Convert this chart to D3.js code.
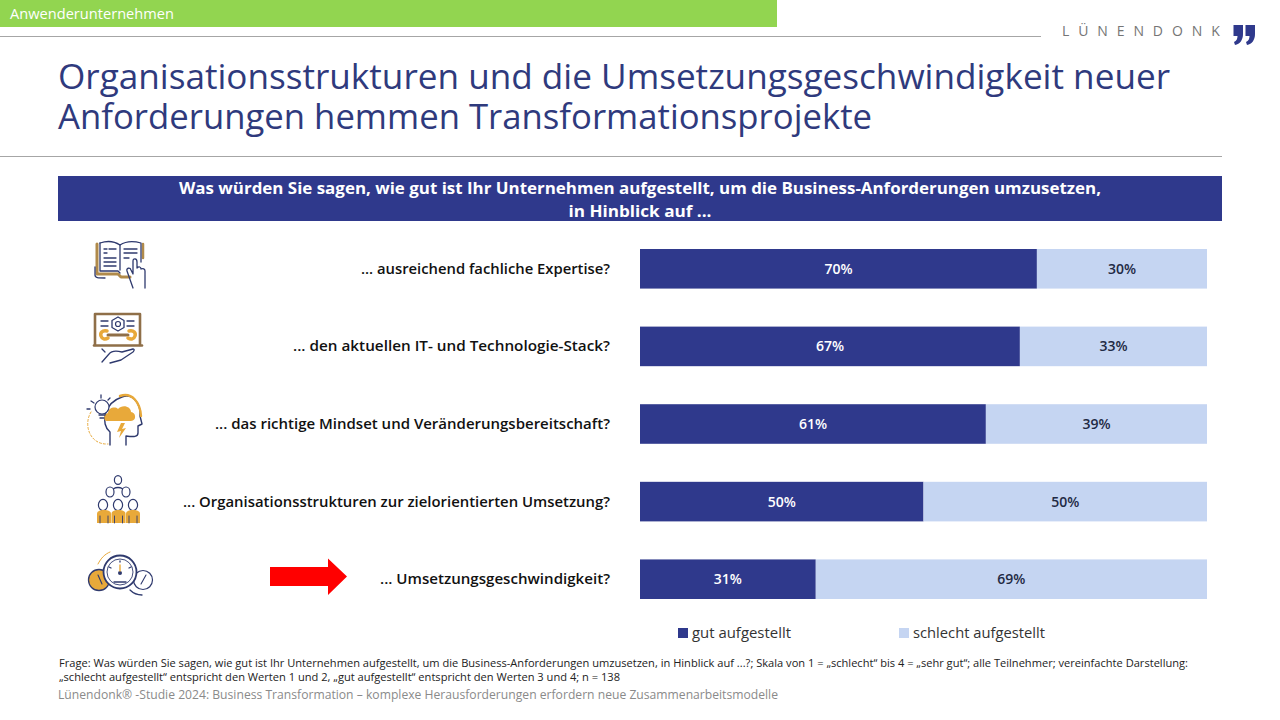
<!DOCTYPE html>
<html lang="de">
<head>
<meta charset="utf-8">
<title>Transformationsprojekte</title>
<script src="https://cdn.jsdelivr.net/npm/d3@7"></script>
<style>
    html, body { margin: 0; padding: 0; background: #fff; }
    svg { display: block; }
    text { font-family: "Open Sans", "Noto Sans", sans-serif; }
</style>
</head>
<body>
<div id="chart"></div>
<script>
// values
const categories = [
    "... ausreichend fachliche Expertise?",
    "... den aktuellen IT- und Technologie-Stack?",
    "... das richtige Mindset und Veränderungsbereitschaft?",
    "... Organisationsstrukturen zur zielorientierten Umsetzung?",
    "... Umsetzungsgeschwindigkeit?"
];
const gutValues = [70, 67, 61, 50, 31];
const schlechtValues = [30, 33, 39, 50, 69];
const seriesNames = ["gut aufgestellt", "schlecht aufgestellt"];
const seriesColours = ["#2f398c", "#c5d5f2"];
const labelColours = ["#ffffff", "#1f2a44"];
const labelWidths = [249, 317, 395, 427, 230];

const titleLines = [
    "Organisationsstrukturen und die Umsetzungsgeschwindigkeit neuer",
    "Anforderungen hemmen Transformationsprojekte"
];
const questionLines = [
    "Was würden Sie sagen, wie gut ist Ihr Unternehmen aufgestellt, um die Business-Anforderungen umzusetzen,",
    "in Hinblick auf ..."
];
const footLines = [
    "Frage: Was würden Sie sagen, wie gut ist Ihr Unternehmen aufgestellt, um die Business-Anforderungen umzusetzen, in Hinblick auf ...?; Skala von 1 = „schlecht“ bis 4 = „sehr gut“; alle Teilnehmer; vereinfachte Darstellung:",
    "„schlecht aufgestellt“ entspricht den Werten 1 und 2, „gut aufgestellt“ entspricht den Werten 3 und 4; n = 138"
];
const studyLine = "Lünendonk® -Studie 2024: Business Transformation – komplexe Herausforderungen erfordern neue Zusammenarbeitsmodelle";

const width = 1280, height = 720;
const svg = d3.select("#chart").append("svg").attr("width", width).attr("height", height);

// text helper, textLength keeps the line widths of the original font
function addText(parent, str, x, y, size, colour, opts = {}) {
    let t = parent.append("text")
        .attr("x", x).attr("y", y)
        .attr("font-size", size)
        .attr("fill", colour)
        .attr("font-weight", opts.weight || 400)
        .attr("text-anchor", opts.anchor || "start")
        .text(str);
    if (opts.len) t.attr("textLength", opts.len).attr("lengthAdjust", "spacingAndGlyphs");
    if (opts.spacing) t.attr("letter-spacing", opts.spacing);
    return t;
}

// page furniture
svg.append("rect").attr("x", 0).attr("y", 0).attr("width", 777).attr("height", 27).attr("fill", "#92d550");
addText(svg, "Anwenderunternehmen", 10, 19, 14, "#fff", { len: 164 });
svg.append("line").attr("x1", 0).attr("x2", 1041).attr("y1", 36.5).attr("y2", 36.5).attr("stroke", "#a6a6a6");
addText(svg, "LÜNENDONK", 1062, 36, 14, "#757575", { spacing: 8.9 });
svg.append("line").attr("x1", 0).attr("x2", 1222).attr("y1", 156.5).attr("y2", 156.5).attr("stroke", "#a6a6a6");

// logo quote marks
[1233, 1245].forEach(x => {
    svg.append("path")
        .attr("transform", `translate(${x},25)`)
        .attr("d", "M0.5,0 H10 V9 C10,15 7,19 2,20 L1,17 C3.5,16 4.5,14 4.5,11 H0.5 Z")
        .attr("fill", "#2f398c");
});

// one text element for the two title lines
const title = svg.append("text").attr("font-size", 35).attr("fill", "#2f3a7d");
[[89, 1112], [129, 814]].forEach((p, i) => {
    title.append("tspan").attr("x", 58).attr("y", p[0])
        .attr("textLength", p[1]).attr("lengthAdjust", "spacingAndGlyphs")
        .text(titleLines[i]);
});

svg.append("rect").attr("x", 58).attr("y", 176).attr("width", 1164).attr("height", 45).attr("fill", "#2f398c");
addText(svg, questionLines[0], 640, 194, 16, "#fff", { weight: 700, anchor: "middle", len: 922 });
addText(svg, questionLines[1], 640, 217, 16, "#fff", { weight: 700, anchor: "middle", len: 143 });

// bars
const x = d3.scaleLinear().domain([0, 100]).range([640, 1207]);
const y = d3.scaleBand().domain(categories).range([249, 599]).paddingInner(0.49).paddingOuter(0);

const rows = categories.map((c, i) => ({ cat: c, gut: gutValues[i], schlecht: schlechtValues[i] }));
const stack = d3.stack().keys(["gut", "schlecht"])(rows);

const layers = svg.selectAll(".layer").data(stack).join("g").attr("class", "layer");
layers.selectAll("rect").data(d => d).join("rect")
    .attr("x", d => x(d[0]))
    .attr("y", d => y(d.data.cat))
    .attr("width", d => x(d[1]) - x(d[0]))
    .attr("height", y.bandwidth())
    .attr("fill", (d, i, n) => seriesColours[stack.indexOf(d3.select(n[i].parentNode).datum())]);

layers.each(function (layer, li) {
    d3.select(this).selectAll("text").data(layer).join("text")
        .attr("x", d => (x(d[0]) + x(d[1])) / 2)
        .attr("y", d => y(d.data.cat) + y.bandwidth() / 2 + 5)
        .attr("text-anchor", "middle")
        .attr("font-size", 14)
        .attr("font-weight", 600)
        .attr("fill", labelColours[li])
        .text(d => (d[1] - d[0]) + "%");
});

categories.forEach((c, i) => {
    addText(svg, c, 610, y(c) + y.bandwidth() / 2 + 5, 14, "#111", { weight: 600, anchor: "end", len: labelWidths[i] });
});

// legend
const legendX = [678, 899], legendLen = [99, 132];
seriesNames.forEach((s, i) => {
    svg.append("rect").attr("x", legendX[i]).attr("y", 628).attr("width", 10).attr("height", 10).attr("fill", seriesColours[i]);
    addText(svg, s, legendX[i] + 14, 638, 15, "#333", { len: legendLen[i] });
});

// notes
addText(svg, footLines[0], 59, 667, 10.5, "#222", { len: 1129 });
addText(svg, footLines[1], 59, 681, 10.5, "#222", { len: 561 });
addText(svg, studyLine, 58, 698.5, 12, "#8a8a8a", { len: 720 });

// red arrow in front of the last row
svg.append("path")
    .attr("d", "M270,567 H328 V558.5 L347,576.5 L328,595 V586 H270 Z")
    .attr("fill", "#ff0000");

// row icons
const navy = "#2f3a6e", gold = "#e8a93a", brown = "#8f6f48";
function line(g, d, c = navy, w = 1.3) {
    return g.append("path").attr("d", d).attr("fill", "none").attr("stroke", c).attr("stroke-width", w).attr("stroke-linecap", "round").attr("stroke-linejoin", "round");
}
function fill(g, d, c = gold) { return g.append("path").attr("d", d).attr("fill", c); }

// book with pointing hand
const book = svg.append("g");
line(book, "M97,244 V274 H118 L121,277 H130", "#b08a4a", 3);
line(book, "M143,244 V258", "#b08a4a", 2.5);
line(book, "M100,243 C106,241 114,241 120,245 C126,241 134,241 141,243 V262");
line(book, "M100,243 V271 H118 L120,273");
line(book, "M120,245 V270");
line(book, "M95,267 V275 C95,278 98,278 105,278");
line(book, "M104,249 h3 M104,253 h3 M109,249 h7 M104,258 h12 M104,262 h12 M104,266 h12 M124,249 h13 M124,253 h13 M124,258 h5");
line(book, "M133,288 L127,271 C126,268 130,267 131,270 L133,274 V261 C133,258 137,258 137,262 V268 C139,266 141,267 141,269 C143,268 145,269 145,271 V288");

// laptop with wrench on a hand
const laptop = svg.append("g");
line(laptop, "M95,345 V314 H140 V345", brown, 2.6);
line(laptop, "M94,345.5 H142", brown, 2.6);
line(laptop, "M118,317 L124,320.5 V327.5 L118,331 L112,327.5 V320.5 Z");
laptop.append("circle").attr("cx", 118).attr("cy", 324).attr("r", 2.5).attr("fill", "none").attr("stroke", navy).attr("stroke-width", 1.2);
line(laptop, "M101,321 h7 M101,326 h7 M127,321 h7 M127,326 h7");
line(laptop, "M108,335 H128", brown, 3);
line(laptop, "M107,331 C102,330 100,333 101,336 C102,339 105,340 108,338", gold, 3.5);
line(laptop, "M129,331 C134,330 136,333 135,336 C134,339 131,340 128,338", gold, 3.5);
line(laptop, "M102,362 L109,354 C112,350 118,351 122,352 L133,349 C135,349 134,351 133,352 L121,360 L110,363 M102,349 L105,352");

// head with bulb and cloud
const head = svg.append("g");
line(head, "M110,445 V432 C100,424 104,403 122,397 C134,393 141,405 140,416 L142,424 L138,426 V433 C138,437 134,437 126,436 V445", navy, 1.4);
line(head, "M120,396 C132,392 140,402 141,416", gold, 2.4);
fill(head, "M107,421 C103,421 103,414 108,413 C108,408 115,406 118,409 C122,404 131,406 131,412 C136,412 137,421 131,421 Z");
fill(head, "M121,423 L117,432 L121,431 L119,438 L126,428 L122,429 L125,423 Z");
head.append("circle").attr("cx", 102).attr("cy", 407).attr("r", 7).attr("fill", "#fff").attr("stroke", navy).attr("stroke-width", 1.2);
line(head, "M99,415 h6 M100,418 h4 M101,395 v3 M91,401 l3,2 M110,398 l-2,2 M87,409 h3");
line(head, "M91,412 C83,425 90,445 108,444", gold, 1).attr("stroke-dasharray", "2 2");

// group of people
const people = svg.append("g");
line(people, "M112,492 C112,486 124,486 124,492");
[[118, 480, 3.6, 4.4], [110, 492, 4, 5], [126, 492, 4, 5], [103, 505, 4.6, 5.6], [118, 505, 4.6, 5.6], [133, 505, 4.6, 5.6]].forEach(p => {
    people.append("ellipse").attr("cx", p[0]).attr("cy", p[1]).attr("rx", p[2]).attr("ry", p[3]).attr("fill", "#fff").attr("stroke", navy).attr("stroke-width", 1.2);
});
[97, 111.5, 126].forEach(px => {
    people.append("path")
        .attr("d", `M${px},523 V514 C${px},511 ${px + 3},510 ${px + 7},510 C${px + 11},510 ${px + 14},511 ${px + 14},514 V523 Z`)
        .attr("fill", gold);
    line(people, `M${px + 3},523 v-7 M${px + 11},523 v-7`, navy, 0.9);
});

// speedometers
const gauge = svg.append("g");
gauge.append("circle").attr("cx", 99).attr("cy", 580).attr("r", 10.5).attr("fill", gold).attr("stroke", navy).attr("stroke-width", 1.3);
gauge.append("circle").attr("cx", 143).attr("cy", 580).attr("r", 9.5).attr("fill", "#fff").attr("stroke", navy).attr("stroke-width", 1.2);
gauge.append("circle").attr("cx", 120).attr("cy", 572).attr("r", 16.5).attr("fill", "#fff").attr("stroke", navy).attr("stroke-width", 1.8);
gauge.append("circle").attr("cx", 120).attr("cy", 572).attr("r", 13).attr("fill", "none").attr("stroke", navy).attr("stroke-width", 0.9);
gauge.append("circle").attr("cx", 120).attr("cy", 573).attr("r", 2).attr("fill", navy);
line(gauge, "M120,571 V565", gold, 1.4);
line(gauge, "M114,582 H126 M109,567 l2,1 M131,567 l-2,1 M120,561 v1");
line(gauge, "M98,575 L102,584", navy, 1.1);
line(gauge, "M141,584 L146,575", navy, 1.1);
line(gauge, "M98,564 C101,558 105,554 110,552", gold, 1);
line(gauge, "M130,590 C134,594 137,595 142,595");
</script>
</body>
</html>
